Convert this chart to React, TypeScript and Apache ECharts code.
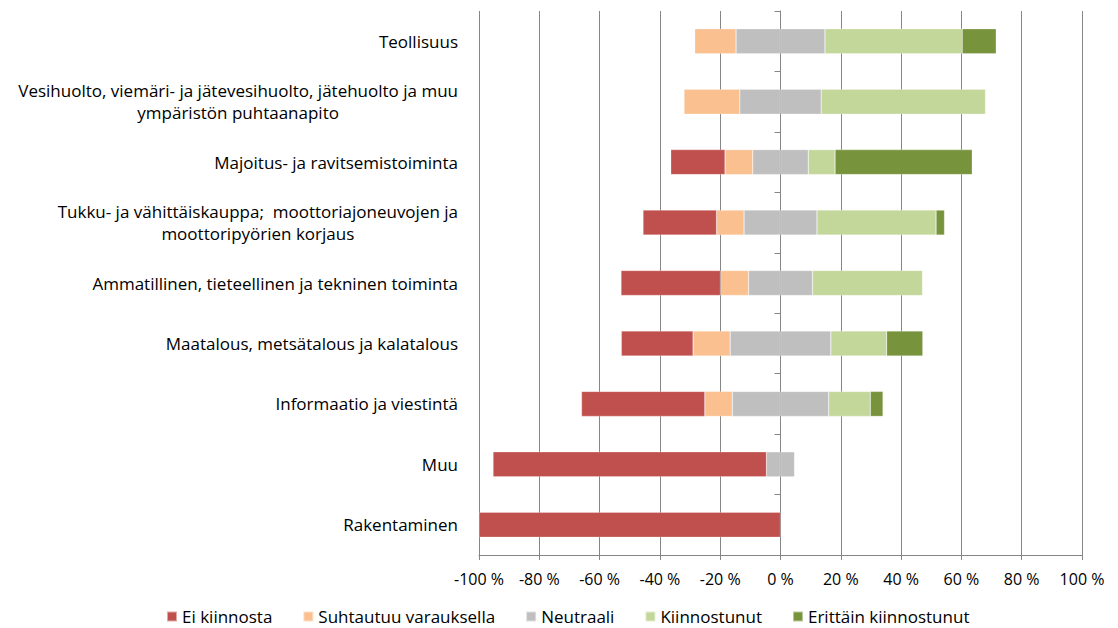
import React, { useEffect, useRef } from "react";
import * as echarts from "echarts";

const categories = [
  "Teollisuus",
  "Vesihuolto, viemäri- ja jätevesihuolto, jätehuolto ja muu\nympäristön puhtaanapito",
  "Majoitus- ja ravitsemistoiminta",
  "Tukku- ja vähittäiskauppa;  moottoriajoneuvojen ja\nmoottoripyörien korjaus",
  "Ammatillinen, tieteellinen ja tekninen toiminta",
  "Maatalous, metsätalous ja kalatalous",
  "Informaatio ja viestintä",
  "Muu",
  "Rakentaminen",
];
const eiKiinnosta = [0, 0, 18, 24.4, 33, 23.8, 40.9, 90.7, 100];
const suhtautuu = [13.7, 18.5, 9.2, 9.1, 9.3, 12.3, 9.1, 0, 0];
const neutraali = [29.5, 27, 18.4, 24.2, 21.2, 33.4, 32, 9.3, 0];
const kiinnostunut = [45.5, 54.5, 8.9, 39.5, 36.5, 18.5, 13.8, 0, 0];
const erittain = [11.3, 0, 45.5, 2.8, 0, 12.0, 4.2, 0, 0];

const seriesNames = [
  "Ei kiinnosta",
  "Suhtautuu varauksella",
  "Neutraali",
  "Kiinnostunut",
  "Erittäin kiinnostunut",
];
const colors = ["#C0504D", "#FAC090", "#BFBFBF", "#C4D79B", "#77933C"];

const FONT = "Open Sans";

const nz = (v: number) => (v === 0 ? null : v);

export default function App() {
  const ref = useRef<HTMLDivElement>(null);
  useEffect(() => {
    if (!ref.current) return;
    const chart = echarts.init(ref.current, null, { renderer: "svg" });
    const bar = (name: string, color: string, data: (number | null)[]) => ({
      name,
      type: "bar",
      stack: "a",
      barWidth: 25,
      data,
      itemStyle: { color, borderColor: "rgba(255,255,255,0.5)", borderWidth: 0.5 },
      emphasis: { disabled: true },
    });
    chart.setOption({
      animation: false,
      textStyle: { fontFamily: FONT },
      grid: { left: 479, right: 36, top: 11, bottom: 73, containLabel: false },
      legend: {
        data: seriesNames,
        left: 161,
        top: 603,
        icon: "rect",
        itemWidth: 10,
        itemHeight: 10,
        itemGap: 30,
        textStyle: { fontFamily: FONT, fontSize: 17, lineHeight: 17, color: "#000" },
      },
      xAxis: {
        type: "value",
        min: -100,
        max: 100,
        interval: 20,
        axisLine: { show: true, lineStyle: { color: "#868686" } },
        axisTick: { show: true, length: 5, lineStyle: { color: "#868686" } },
        splitLine: { show: true, lineStyle: { color: "#868686", width: 1 } },
        axisLabel: {
          formatter: (v: number) => `${v} %`,
          margin: 16,
          fontFamily: FONT,
          fontSize: 16,
          color: "#000",
        },
      },
      yAxis: [
        {
          type: "category",
          data: categories,
          inverse: true,
          axisLine: { show: false, onZero: false },
          axisTick: { show: false },
          axisLabel: {
            margin: 21,
            formatter: (v: string) =>
              v
                .split("\n")
                .map((l) => `{c|${l}}`)
                .join("\n"),
            rich: {
              c: { align: "center", fontFamily: FONT, fontSize: 17, color: "#000", lineHeight: 22 },
            },
          },
        },
        {
          type: "category",
          data: categories,
          inverse: true,
          position: "left",
          axisLine: { show: true, onZero: true, lineStyle: { color: "#868686" } },
          axisTick: { show: true, length: 6, lineStyle: { color: "#868686" } },
          axisLabel: { show: false },
          splitLine: { show: false },
        },
      ],
      series: [
        bar(seriesNames[2], colors[2], neutraali.map((v) => nz(-v / 2))),
        bar(seriesNames[1], colors[1], suhtautuu.map((v) => nz(-v))),
        bar(seriesNames[0], colors[0], eiKiinnosta.map((v) => nz(-v))),
        bar(seriesNames[2], colors[2], neutraali.map((v) => nz(v / 2))),
        bar(seriesNames[3], colors[3], kiinnostunut.map((v) => nz(v))),
        bar(seriesNames[4], colors[4], erittain.map((v) => nz(v))),
      ],
    });
    return () => chart.dispose();
  }, []);
  return (
    <div
      ref={ref}
      style={{ position: "fixed", left: 0, top: 0, width: 1118, height: 628, background: "#fff" }}
    />
  );
}
